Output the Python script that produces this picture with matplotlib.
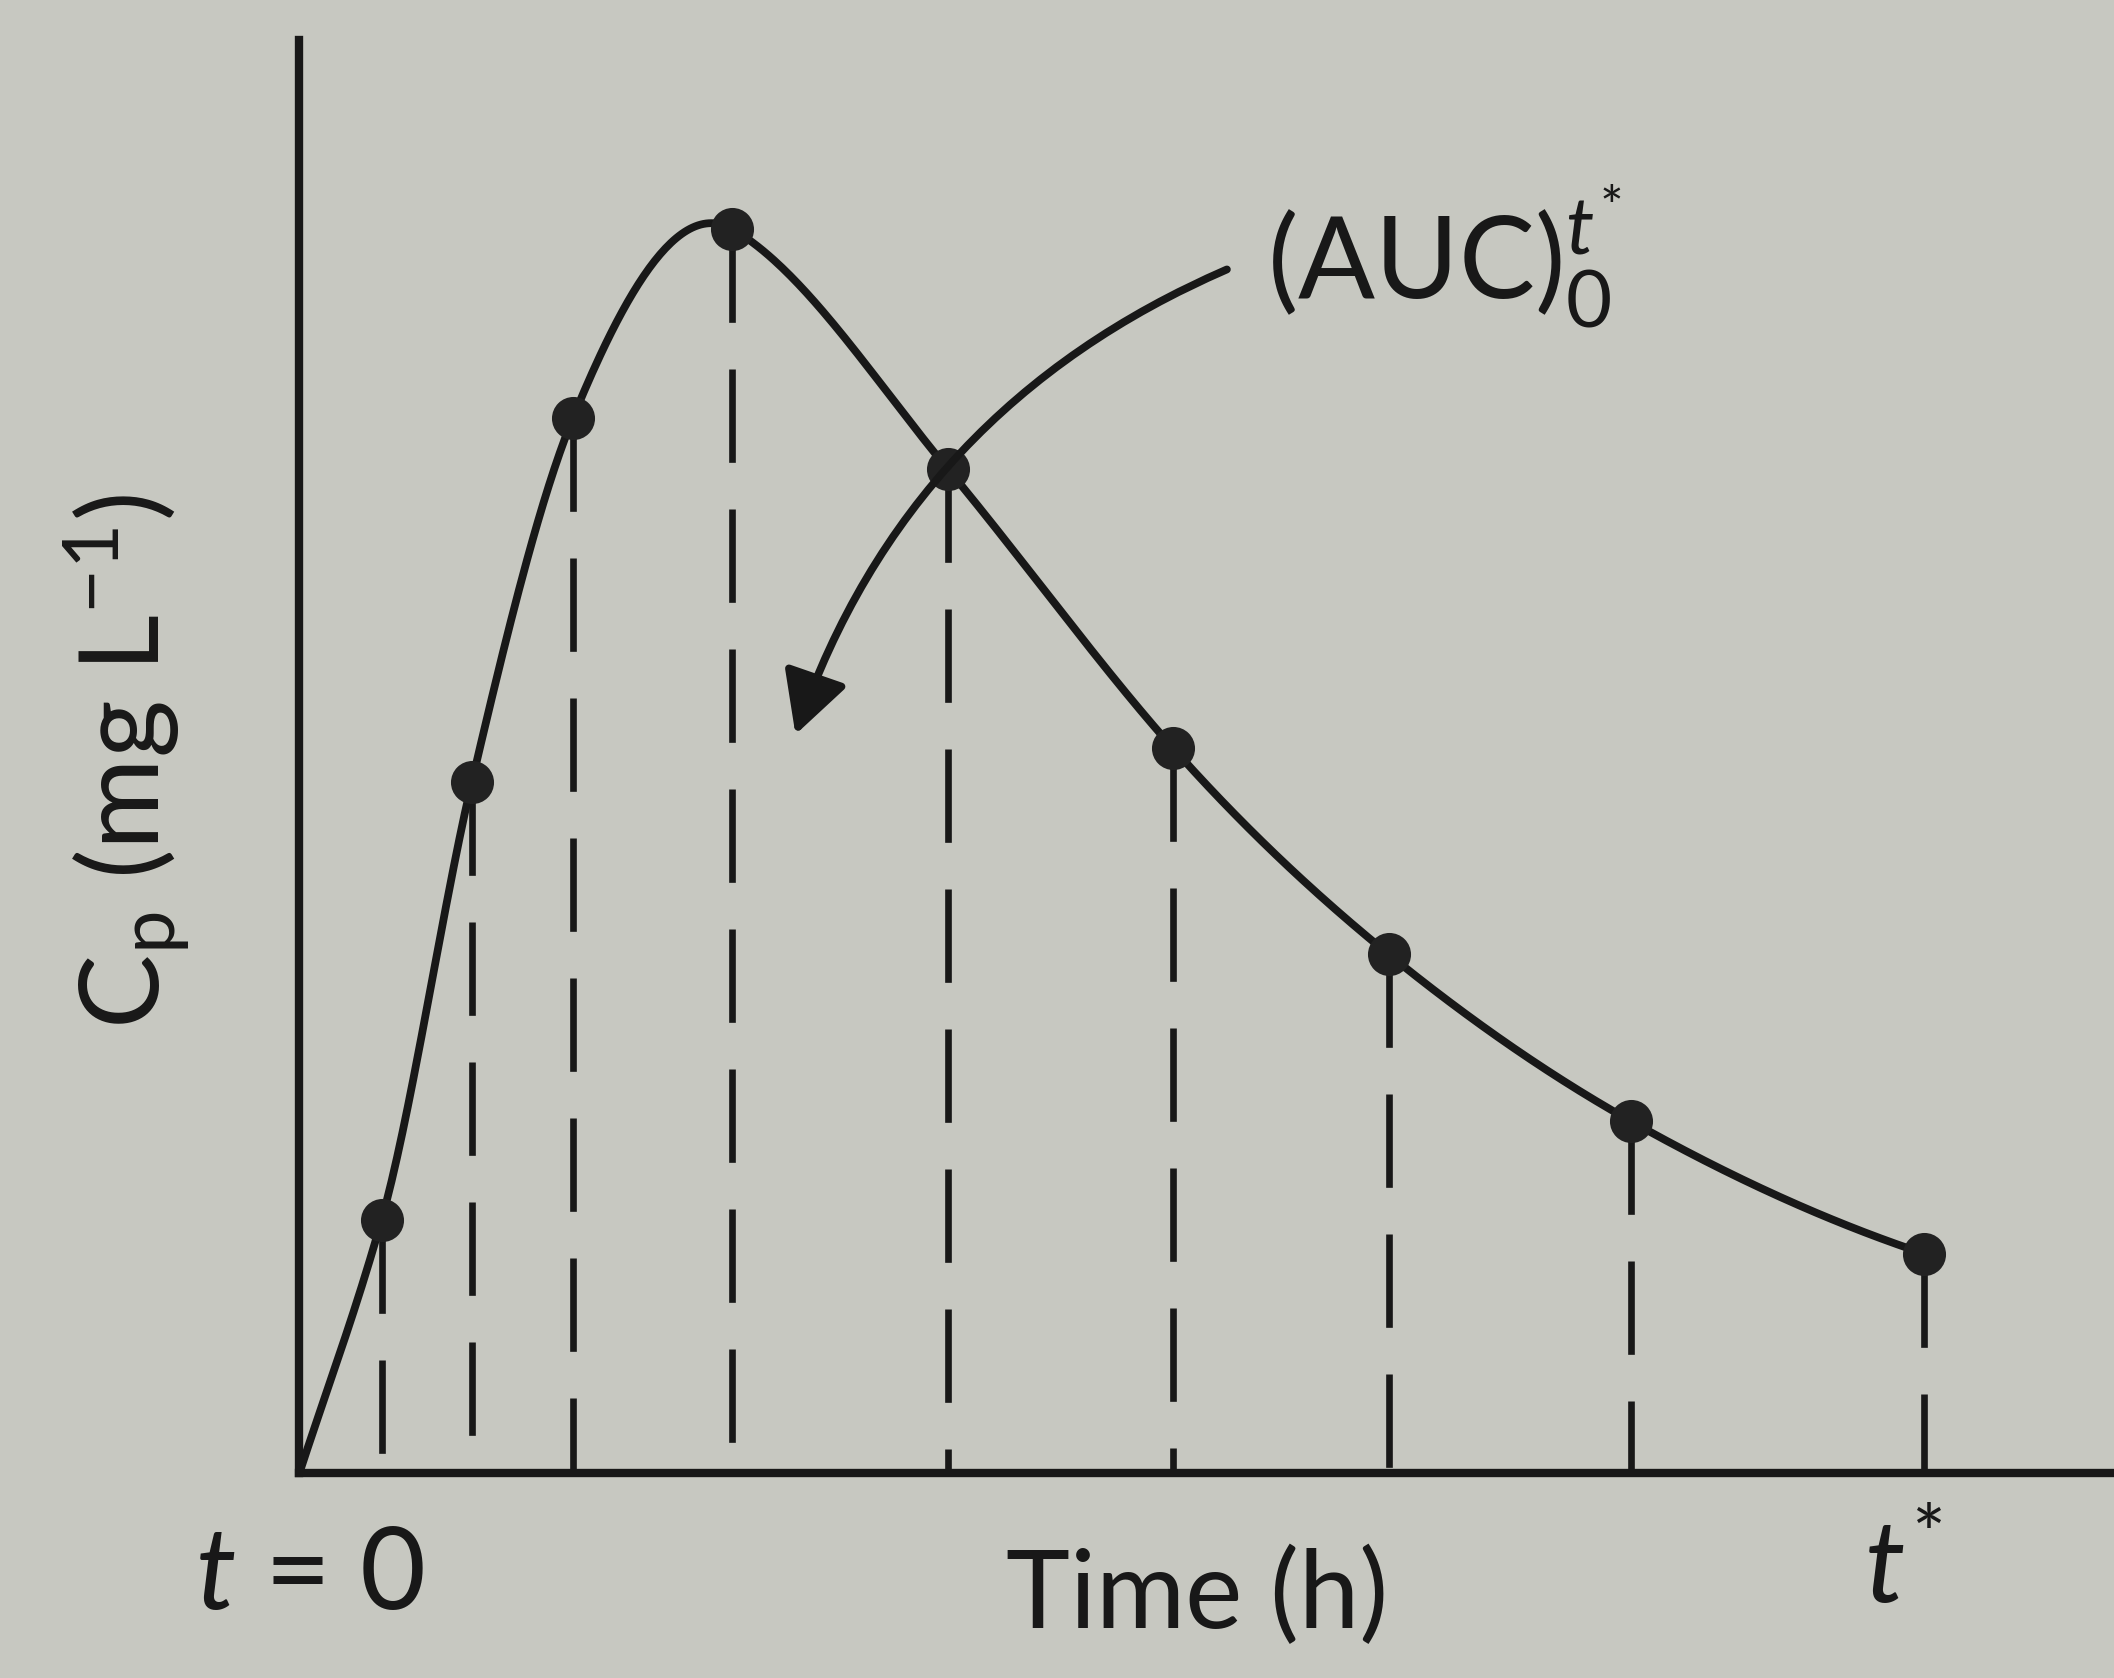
import numpy as np
import matplotlib as mpl
mpl.use('Agg')
import matplotlib.pyplot as plt

# concentration-time samples (arbitrary units)
times = [0.0, 0.61, 1.28, 2.03, 3.21, 4.81, 6.48, 8.08, 9.88, 12.05]
conc = [0.0, 1.88, 5.13, 7.83, 9.23, 7.45, 5.38, 3.85, 2.61, 1.63]

xlabel = 'Time (h)'
ylabel = r'C$_\mathrm{p}$ (mg L$^{-1}$)'
auc_label = r'(AUC)$_0^{t^{*}}$'
start_label = r'$t$ = 0'
end_label = r'$t^{*}$'

bg = '#c7c8c1'
ink = '#181818'

plt.rcParams['font.family'] = ['Lato', 'DejaVu Sans']
plt.rcParams['mathtext.fontset'] = 'custom'
plt.rcParams['mathtext.rm'] = 'Lato'
plt.rcParams['mathtext.it'] = 'Lato:italic'
plt.rcParams['mathtext.bf'] = 'Lato:bold'


def smooth(x, y, xs):
    # hermite curve, tangents = mean of akima and centred-difference slopes
    # (straight start from the origin, gently rounded peak like the drawing)
    x = np.asarray(x, float)
    y = np.asarray(y, float)
    n = len(x)
    h = np.diff(x)
    m = np.diff(y) / h
    right1 = 2 * m[-1] - m[-2]
    right2 = 2 * right1 - m[-1]
    mm = np.concatenate([[m[0], m[0]], m, [right1, right2]])
    d = np.zeros(n)
    for k in range(n):
        w1 = abs(mm[k + 3] - mm[k + 2])
        w2 = abs(mm[k + 1] - mm[k])
        if w1 + w2 == 0:
            ak = 0.5 * (mm[k + 1] + mm[k + 2])
        else:
            ak = (w1 * mm[k + 1] + w2 * mm[k + 2]) / (w1 + w2)
        if k == 0:
            cd = m[0]
        elif k == n - 1:
            cd = ak
        else:
            cd = (y[k + 1] - y[k - 1]) / (x[k + 1] - x[k - 1])
        d[k] = 0.5 * (ak + cd)
    idx = np.clip(np.searchsorted(x, xs) - 1, 0, n - 2)
    t = (xs - x[idx]) / h[idx]
    h00 = 2 * t**3 - 3 * t**2 + 1
    h10 = t**3 - 2 * t**2 + t
    h01 = -2 * t**3 + 3 * t**2
    h11 = t**3 - t**2
    return h00 * y[idx] + h10 * h[idx] * d[idx] + h01 * y[idx + 1] + h11 * h[idx] * d[idx + 1]


fig = plt.figure(figsize=(10.57, 8.39), dpi=200, facecolor=bg)
ax = fig.add_axes([0.1416, 0.122, 0.8584, 0.854])
ax.set_facecolor(bg)
ax.set_xlim(0, 13.46)
ax.set_ylim(0, 10.63)

for s in ['top', 'right']:
    ax.spines[s].set_visible(False)
for s in ['left', 'bottom']:
    ax.spines[s].set_linewidth(3.0)
    ax.spines[s].set_color(ink)
ax.set_xticks([])
ax.set_yticks([])

# dashed drop lines from each sample to the time axis
for t, c in zip(times[1:], conc[1:]):
    ax.plot([t, t], [c, 0], color=ink, lw=2.4, ls=(0, (14, 7)),
            solid_capstyle='butt', dash_capstyle='butt', zorder=2)

xs = np.linspace(times[0], times[-1], 600)
ax.plot(xs, smooth(times, conc, xs), color=ink, lw=2.8, zorder=3,
        solid_joinstyle='round')
ax.plot(times[1:], conc[1:], 'o', ms=14.5, color='#222222', zorder=4)

ax.annotate('', xy=(3.68, 5.48), xytext=(6.88, 8.93),
            arrowprops=dict(arrowstyle='-|>,head_length=0.75,head_width=0.4',
                            mutation_scale=25, connectionstyle='arc3,rad=0.22',
                            lw=2.8, color=ink, shrinkA=0, shrinkB=0), zorder=5)

ax.text(7.18, 9.03, auc_label, fontsize=41, color=ink, ha='left', va='center')
ax.text(6.66, -0.92, xlabel, fontsize=39, color=ink, ha='center', va='center',
        clip_on=False)
ax.text(0.08, -0.77, start_label, fontsize=41, color=ink, ha='center', va='center',
        clip_on=False)
ax.text(11.9, -0.72, end_label, fontsize=41, color=ink, ha='center', va='center',
        clip_on=False)
ax.text(-1.27, 5.28, ylabel, fontsize=40, color=ink, ha='center', va='center',
        rotation=90, clip_on=False)

plt.savefig('out.png', dpi=200, facecolor=bg)
